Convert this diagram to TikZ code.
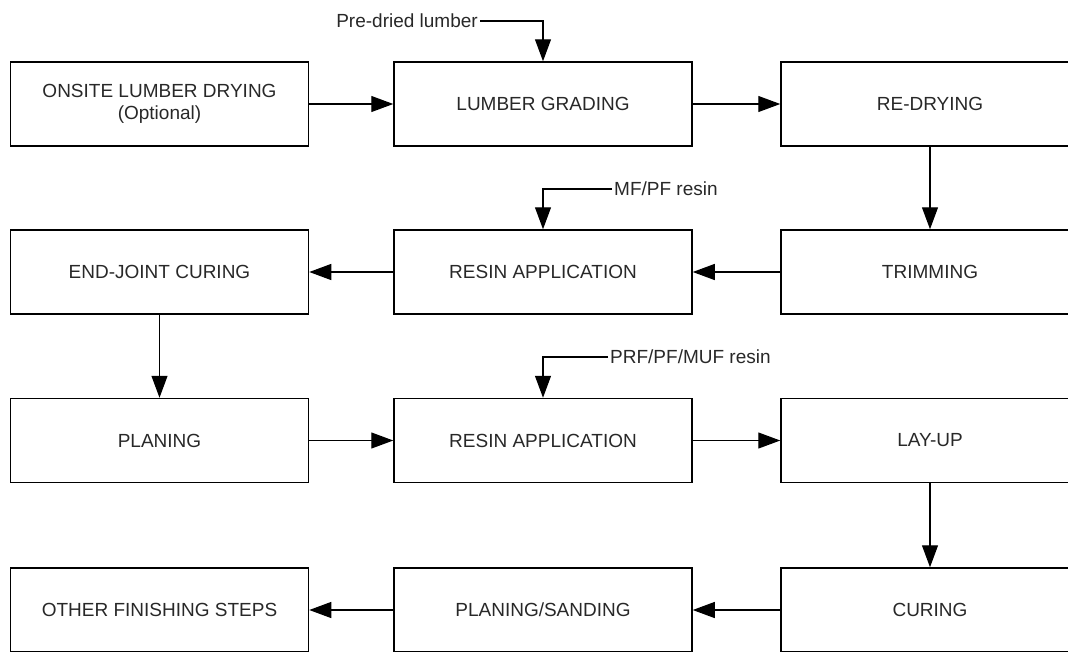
\documentclass[tikz,border=0pt]{standalone}
\usepackage{fontspec}
\setmainfont{Liberation Sans}
\usepackage{tikz}
\usetikzlibrary{arrows.meta}
\definecolor{T}{RGB}{40, 40, 40}

\begin{document}
\begin{tikzpicture}[x=1pt, y=-1pt,
  stage/.style={draw, line width=1.5pt, minimum width=298pt, minimum height=84pt,
    inner sep=0pt, align=center, text=T, font=\fontsize{19}{22}\selectfont},
  feed/.style={text=T, inner sep=2pt, font=\fontsize{19}{22}\selectfont},
  flow/.style={line width=1.2pt, -{Triangle[length=22pt, width=16pt]}}]
  \clip (0,0) rectangle (1068,651);
  % row 1
  \node[stage] (onsite) at (159.5,104) {ONSITE LUMBER DRYING\\(Optional)};
  \node[stage] (grading) at (543,104) {LUMBER GRADING};
  \node[stage] (redry) at (930,104) {RE-DRYING};
  % row 2
  \node[stage] (endjoint) at (159.5,272) {END-JOINT CURING};
  \node[stage] (resinA) at (543,272) {RESIN APPLICATION};
  \node[stage] (trim) at (930,272) {TRIMMING};
  % row 3
  \node[stage] (planing) at (159.5,440.5) {PLANING};
  \node[stage] (resinB) at (543,440.5) {RESIN APPLICATION};
  \node[stage] (layup) at (930,440.5) {LAY-UP};
  % row 4
  \node[stage] (finish) at (159.5,610) {OTHER FINISHING STEPS};
  \node[stage] (sanding) at (543,610) {PLANING/SANDING};
  \node[stage] (curing) at (930,610) {CURING};
  % inputs
  \node[feed, anchor=east] (predried) at (480,21) {Pre-dried lumber};
  \node[feed, anchor=west] (mfpf) at (612,189) {MF/PF resin};
  \node[feed, anchor=west] (prf) at (608,357) {PRF/PF/MUF resin};
  % connectors
  \draw[flow] (onsite) -- (grading);
  \draw[flow] (grading) -- (redry);
  \draw[flow] (redry) -- (trim);
  \draw[flow] (trim) -- (resinA);
  \draw[flow] (resinA) -- (endjoint);
  \draw[flow] (endjoint) -- (planing);
  \draw[flow] (planing) -- (resinB);
  \draw[flow] (resinB) -- (layup);
  \draw[flow] (layup) -- (curing);
  \draw[flow] (curing) -- (sanding);
  \draw[flow] (sanding) -- (finish);
  \draw[flow] (predried.east) -| (grading.north);
  \draw[flow] (mfpf.west) -| (resinA.north);
  \draw[flow] (prf.west) -| (resinB.north);
\end{tikzpicture}
\end{document}
